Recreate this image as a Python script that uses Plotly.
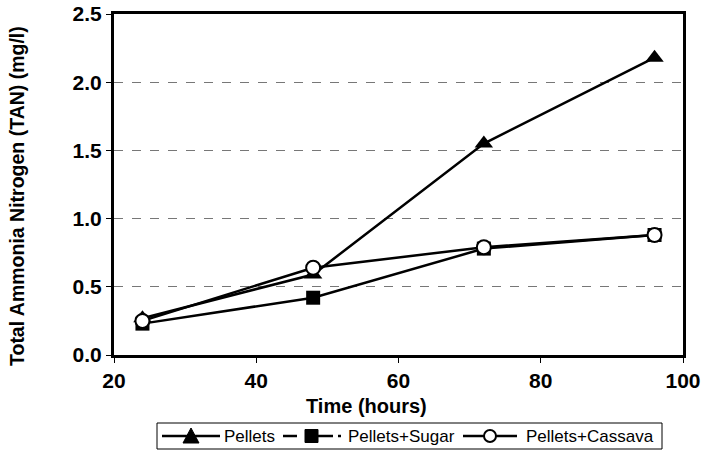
import plotly.graph_objects as go

time_hours = [24, 48, 72, 96]
pellets = [0.27, 0.59, 1.55, 2.18]
pellets_sugar = [0.23, 0.42, 0.78, 0.88]
pellets_cassava = [0.25, 0.64, 0.79, 0.88]
series_names = ["Pellets", "Pellets+Sugar", "Pellets+Cassava"]

W, H = 702, 453
L, R, T, B = 114, 19, 14, 98
PW, PH = W - L - R, H - T - B


def px(x):
    return (x - L) / PW


def py(y):
    return (H - B - y) / PH


fig = go.Figure()
fig.add_trace(go.Scatter(x=time_hours, y=pellets, name=series_names[0], mode="lines+markers",
                         line=dict(color="black", width=2.5),
                         marker=dict(symbol="triangle-up", size=16, color="black")))
fig.add_trace(go.Scatter(x=time_hours, y=pellets_sugar, name=series_names[1], mode="lines+markers",
                         line=dict(color="black", width=2.5),
                         marker=dict(symbol="square", size=14, color="black")))
fig.add_trace(go.Scatter(x=time_hours, y=pellets_cassava, name=series_names[2], mode="lines+markers",
                         line=dict(color="black", width=2.5),
                         marker=dict(symbol="circle", size=14, color="white",
                                     line=dict(color="black", width=2))))

shapes = []
annotations = []
ly = 436
# legend box
shapes.append(dict(type="rect", xref="paper", yref="paper", x0=px(157), x1=px(662), y0=py(423), y1=py(449),
                   line=dict(color="black", width=1), fillcolor="white", layer="above"))
# Pellets entry
shapes.append(dict(type="line", xref="paper", yref="paper", x0=px(162), x1=px(220), y0=py(ly), y1=py(ly),
                   line=dict(color="black", width=2.5)))
shapes.append(dict(type="path", xref="paper", yref="paper",
                   path=f"M {px(183)},{py(443)} L {px(199)},{py(443)} L {px(191)},{py(428)} Z",
                   fillcolor="black", line=dict(color="black", width=1)))
# Sugar entry (dash - dot)
shapes.append(dict(type="line", xref="paper", yref="paper", x0=px(283), x1=px(297), y0=py(ly), y1=py(ly),
                   line=dict(color="black", width=2.5)))
shapes.append(dict(type="line", xref="paper", yref="paper", x0=px(318), x1=px(333), y0=py(ly), y1=py(ly),
                   line=dict(color="black", width=2.5)))
shapes.append(dict(type="line", xref="paper", yref="paper", x0=px(338), x1=px(341), y0=py(ly), y1=py(ly),
                   line=dict(color="black", width=2.5)))
shapes.append(dict(type="rect", xref="paper", yref="paper", x0=px(305), x1=px(318), y0=py(442.5), y1=py(429.5),
                   fillcolor="black", line=dict(color="black", width=1)))
# Cassava entry
shapes.append(dict(type="line", xref="paper", yref="paper", x0=px(463), x1=px(517), y0=py(ly), y1=py(ly),
                   line=dict(color="black", width=2.5)))
shapes.append(dict(type="circle", xref="paper", yref="paper", x0=px(484), x1=px(496), y0=py(442), y1=py(430),
                   fillcolor="white", line=dict(color="black", width=2)))

for name, xs in zip(series_names, [222, 346, 524]):
    annotations.append(dict(text=name, xref="paper", yref="paper", x=px(xs), y=py(ly),
                            xanchor="left", yanchor="middle", showarrow=False,
                            font=dict(size=17, color="black")))

# axis titles
annotations.append(dict(text="<b>Time (hours)</b>", xref="paper", yref="paper", x=px(366), y=py(406),
                        xanchor="center", yanchor="middle", showarrow=False, font=dict(size=20)))
annotations.append(dict(text="<b>Total Ammonia Nitrogen (TAN) (mg/l)</b>", xref="paper", yref="paper",
                        x=px(17), y=py(196), xanchor="center", yanchor="middle", textangle=-90,
                        showarrow=False, font=dict(size=19.5)))

fig.update_layout(
    width=W, height=H,
    margin=dict(l=L, r=R, t=T, b=B, autoexpand=False),
    paper_bgcolor="white", plot_bgcolor="white",
    font=dict(family="Liberation Sans, Arial, sans-serif", color="black"),
    showlegend=False,
    shapes=shapes, annotations=annotations,
)
fig.update_xaxes(range=[20, 100], tickvals=[20, 40, 60, 80, 100], ticks="outside", ticklen=5,
                 tickcolor="black", showline=True, linecolor="black", linewidth=3, mirror=True,
                 showgrid=False, zeroline=False,
                 tickfont=dict(size=21, family="Liberation Sans, Arial", weight="bold"))
fig.update_yaxes(range=[0, 2.5], tickvals=[0, 0.5, 1.0, 1.5, 2.0, 2.5], tickformat=".1f",
                 ticks="outside", ticklen=5, tickcolor="black",
                 showline=True, linecolor="black", linewidth=3, mirror=True,
                 showgrid=True, gridcolor="#777777", griddash="dash", gridwidth=1, zeroline=False,
                 tickfont=dict(size=21, family="Liberation Sans, Arial", weight="bold"))

fig.write_html("out.html", config={"displayModeBar": False},
               post_script="document.body.style.margin='0';document.body.style.overflow='hidden';")
